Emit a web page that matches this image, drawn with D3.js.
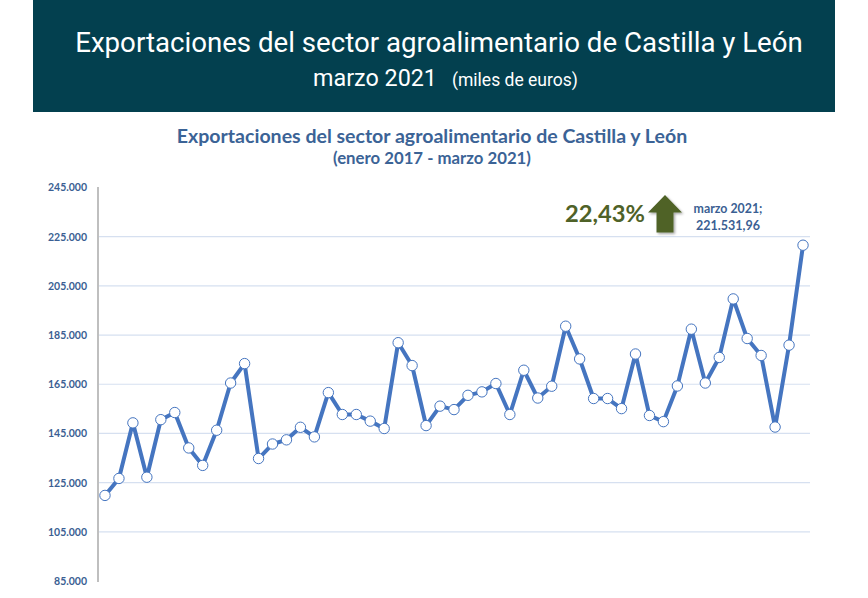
<!DOCTYPE html>
<html><head><meta charset="utf-8">
<script src="https://cdn.jsdelivr.net/npm/d3@7"></script>
<style>body{margin:0;background:#fff}svg{display:block}</style>
</head><body>
<script>
const months = ["ene","feb","mar","abr","may","jun","jul","ago","sep","oct","nov","dic"];
const years = [2017, 2018, 2019, 2020, 2021];
const values = [
  119.8, 126.7, 149.3, 127.2, 150.6, 153.5, 139.1, 132.0, 146.3, 165.5, 173.4, 134.8,
  140.7, 142.4, 147.5, 143.6, 161.6, 152.7, 152.7, 150.0, 147.0, 181.9, 172.6, 148.2,
  156.1, 154.7, 160.5, 161.9, 165.3, 152.7, 170.7, 159.4, 164.2, 188.6, 175.3, 159.2,
  159.2, 155.1, 177.3, 152.3, 149.8, 164.3, 187.4, 165.5, 175.9, 199.7, 183.6, 176.7,
  147.6, 180.9, 221.532
].map(v => v * 1000);
const yTicks = [85000, 105000, 125000, 145000, 165000, 185000, 205000, 225000, 245000];
const bannerTitle = "Exportaciones del sector agroalimentario de Castilla y León";
const bannerSub = "marzo 2021";
const bannerUnit = "(miles de euros)";
const chartTitle = "Exportaciones del sector agroalimentario de Castilla y León";
const chartSub = "(enero 2017 - marzo 2021)";
const changeLabel = "22,43%";
const lastLabel = ["marzo 2021;", "221.531,96"];

const categories = [];
years.forEach(y => months.forEach(m => { if (categories.length < values.length) categories.push(m + " " + y); }));

const W = 868, H = 598;
const svg = d3.select("body").append("svg").attr("width", W).attr("height", H);

function fit(sel, target) {
  const n = sel.node();
  const fs = parseFloat(sel.attr("font-size"));
  const w = n.getComputedTextLength();
  sel.attr("font-size", (fs * target / w).toFixed(2));
}

// Banner
svg.append("rect").attr("x", 33).attr("y", 0).attr("width", 802).attr("height", 112).attr("fill", "#03404F");
const bt = svg.append("text").attr("x", 439).attr("y", 52).attr("text-anchor", "middle")
  .attr("font-family", "Roboto").attr("font-weight", 400).attr("font-size", 26).attr("fill", "#fff").text(bannerTitle);
fit(bt, 728);
const bs1 = svg.append("text").attr("x", 313).attr("y", 86)
  .attr("font-family", "Roboto").attr("font-weight", 400).attr("font-size", 21).attr("fill", "#fff").text(bannerSub);
fit(bs1, 124);
const bs2 = svg.append("text").attr("x", 452).attr("y", 86)
  .attr("font-family", "Roboto").attr("font-weight", 400).attr("font-size", 15).attr("fill", "#fff").text(bannerUnit);
fit(bs2, 126);

// Chart titles
const ct = svg.append("text").attr("x", 432).attr("y", 143).attr("text-anchor", "middle")
  .attr("font-family", "Lato").attr("font-weight", 700).attr("font-size", 17).attr("fill", "#3B6396").text(chartTitle);
fit(ct, 511);
const cs = svg.append("text").attr("x", 432).attr("y", 164).attr("text-anchor", "middle")
  .attr("font-family", "Lato").attr("font-weight", 700).attr("font-size", 15).attr("fill", "#3B6396").text(chartSub);
fit(cs, 198);

// Scales
const x0 = 98, x1 = 810;
const x = d3.scaleBand().domain(categories).range([x0, x1]);
const y = d3.scaleLinear().domain([85000, 245000]).range([581, 187.5]);

// Gridlines
svg.append("g").selectAll("line").data(yTicks.filter(t => t > 85000 && t < 245000)).join("line")
  .attr("x1", x0).attr("x2", x1).attr("y1", d => y(d)).attr("y2", d => y(d))
  .attr("stroke", "#D6E0F0").attr("stroke-width", 1.2);

// Y axis
const yAxis = d3.axisLeft(y).tickValues(yTicks).tickSize(0).tickPadding(11)
  .tickFormat(d => d3.format(",")(d).replace(/,/g, "."));
const ga = svg.append("g").attr("transform", `translate(${x0},0)`).call(yAxis);
ga.select(".domain").remove();
ga.selectAll("text").attr("font-family", "Lato").attr("font-weight", 700).attr("font-size", 10.5).attr("fill", "#3B5F93");
svg.append("line").attr("x1", x0).attr("x2", x0).attr("y1", 187).attr("y2", 582)
  .attr("stroke", "#BFBFBF").attr("stroke-width", 2);

// Line
const cx = (d, i) => x(categories[i]) + x.bandwidth() / 2;
const line = d3.line().x((d, i) => cx(d, i)).y(d => y(d));
svg.append("path").datum(values).attr("d", line).attr("fill", "none")
  .attr("stroke", "#4575C0").attr("stroke-width", 4).attr("stroke-linejoin", "round");
svg.append("g").selectAll("circle").data(values).join("circle")
  .attr("cx", (d, i) => cx(d, i)).attr("cy", d => y(d)).attr("r", 5.2)
  .attr("fill", "#fff").attr("stroke", "#4575C0").attr("stroke-width", 1);

// Annotation
const pct = svg.append("text").attr("x", 645).attr("y", 222).attr("text-anchor", "end")
  .attr("font-family", "Lato").attr("font-weight", 700).attr("font-size", 24).attr("fill", "#4F6228").text(changeLabel);
fit(pct, 80);
const defs = svg.append("defs");
const f = defs.append("filter").attr("id", "sh").attr("x", "-30%").attr("y", "-30%").attr("width", "160%").attr("height", "160%");
f.append("feDropShadow").attr("dx", 1.5).attr("dy", 1.5).attr("stdDeviation", 1.2).attr("flood-color", "#000").attr("flood-opacity", 0.35);
svg.append("path").attr("d", "M665,195 L682,212.5 L673.5,212.5 L673.5,232.5 L656.5,232.5 L656.5,212.5 L648,212.5 Z")
  .attr("fill", "#4F6228").attr("filter", "url(#sh)");
lastLabel.forEach((t, i) => {
  const tx = svg.append("text").attr("x", 728).attr("y", 213 + i * 17).attr("text-anchor", "middle")
    .attr("font-family", "Lato").attr("font-weight", 700).attr("font-size", 12).attr("fill", "#3B5F93").text(t);
  fit(tx, i === 0 ? 69 : 64);
});
</script>
</body></html>
